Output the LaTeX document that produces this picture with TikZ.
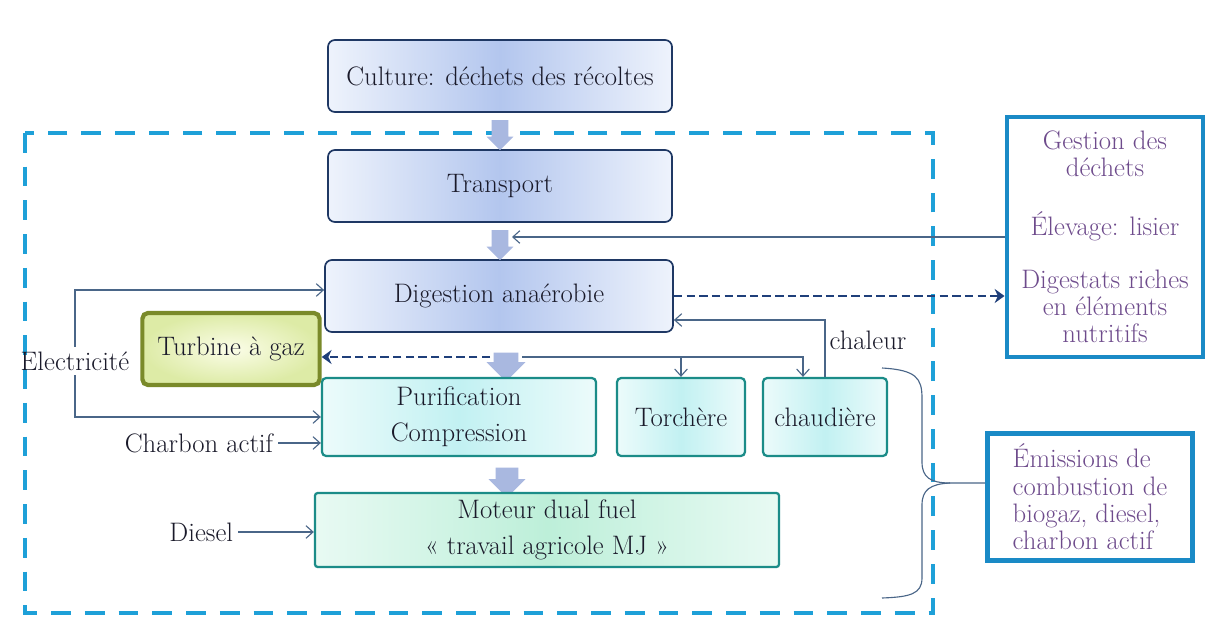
\documentclass[tikz,border=0pt]{standalone}
\usepackage{fontspec}
\usepackage{tikz}
\usetikzlibrary{arrows.meta,positioning,calc,shapes.arrows}
\definecolor{frameBlue}{HTML}{1EA0D8}
\definecolor{sideBlue}{HTML}{1A8AC6}
\definecolor{navyLine}{HTML}{1F3864}
\definecolor{dashNavy}{HTML}{1F3F7A}
\definecolor{lineGrey}{HTML}{4A6688}
\definecolor{blueIn}{HTML}{B3C6EE}
\definecolor{blueOut}{HTML}{EEF3FC}
\definecolor{cyanIn}{HTML}{C2F1F2}
\definecolor{cyanOut}{HTML}{ECFBFB}
\definecolor{tealLine}{HTML}{1B8C88}
\definecolor{mintIn}{HTML}{BDEFD9}
\definecolor{mintOut}{HTML}{E8FAF3}
\definecolor{oliveLine}{HTML}{7A8A2A}
\definecolor{limeIn}{HTML}{FBFDE8}
\definecolor{limeOut}{HTML}{DDEBA6}
\definecolor{arrowFill}{HTML}{A9B8E0}
\definecolor{purpleText}{HTML}{6E4B8C}
\definecolor{ink}{HTML}{1A1A2A}

\begin{document}
\begin{tikzpicture}[x=0.025cm,y=-0.025cm,
  font=\fontsize{19}{21}\selectfont,text=ink,
  >={Straight Barb[length=5pt,width=9pt]},
  bluebox/.style={draw=navyLine,line width=1.2pt,rounded corners=5pt,left color=blueOut,right color=blueOut,middle color=blueIn,minimum width=8.6cm,minimum height=1.8cm},
  cyanbox/.style={draw=tealLine,line width=1.6pt,rounded corners=3pt,left color=cyanOut,right color=cyanOut,middle color=cyanIn,minimum height=1.95cm,align=center,font=\fontsize{19}{25.6}\selectfont},
  sidebox/.style={draw=sideBlue,line width=3.5pt,fill=white,text=purpleText,font=\fontsize{19}{19.5}\selectfont},
  blockarrow/.style={single arrow,fill=arrowFill,draw=none,rotate=-90,inner sep=0pt,text depth=0pt},
  flow/.style={lineGrey,line width=0.8pt,->},
  dashflow/.style={dashNavy,line width=2pt,dash pattern=on 6pt off 3pt,-{Stealth[length=7pt,width=10pt]}}]
\useasboundingbox (0,0) rectangle (1206,630);
\fill[white] (0,0) rectangle (1206,630);
% system boundary
\draw[frameBlue,line width=3.5pt,dash pattern=on 14pt off 10pt] (25,133) rectangle (933,613);
% main chain
\node[bluebox] (cult) at (500,76) {Culture: déchets des récoltes};
\node[bluebox] (trans) at (500,186) {Transport};
\node[bluebox,minimum width=8.7cm] (dig) at (499,296) {Digestion anaérobie};
\node[blockarrow,text height=0.4cm,minimum height=0.75cm,single arrow head extend=0.13cm] (ar1) at (500,131) {};
\node[blockarrow,text height=0.4cm,minimum height=0.75cm,single arrow head extend=0.13cm] (ar2) at (500,241) {};
\node[blockarrow,text height=0.6cm,minimum height=0.72cm,single arrow head extend=0.18cm] (ar3) at (506,361) {};
\node[blockarrow,text height=0.55cm,minimum height=0.75cm,single arrow head extend=0.18cm] (ar4) at (507,477) {};
% biogas uses
\node[draw=oliveLine,line width=3pt,rounded corners=4pt,inner color=limeIn,outer color=limeOut,minimum width=4.43cm,minimum height=1.8cm] (turb) at (231,349) {Turbine à gaz};
\node[cyanbox,minimum width=6.85cm] (pur) at (459,417) {Purification\\Compression};
\node[cyanbox,minimum width=3.2cm] (tor) at (681,417) {Torchère};
\node[cyanbox,minimum width=3.1cm] (chd) at (825,417) {chaudière};
\node[draw=tealLine,line width=1.6pt,rounded corners=2pt,left color=mintOut,right color=mintOut,middle color=mintIn,minimum width=11.6cm,minimum height=1.85cm,align=center,font=\fontsize{19}{25.6}\selectfont] (mot) at (547,530) {Moteur dual fuel\\« travail agricole MJ »};
% inputs
\node (elec) at (75,361) {Electricité};
\node[anchor=east] (charb) at (278,443) {Charbon actif};
\node[anchor=east] (dies) at (238,532) {Diesel};
\node (chal) at (868,340) {chaleur};
% side boxes
\node[sidebox,minimum width=4.9cm,minimum height=6cm,align=center] (gest) at (1105,237) {Gestion des\\déchets\\[22pt]Élevage: lisier\\[18pt]Digestats riches\\en éléments\\nutritifs};
\node[sidebox,minimum width=5.12cm,minimum height=3.18cm,align=left] (emis) at (1090,497) {Émissions de\\combustion de\\biogaz, diesel,\\charbon actif};
% connectors
\coordinate (lis) at (512,237);
\draw[flow] (gest.west) -- (lis);
\draw[dashflow] (dig.east) -- (dig.east -| gest.west);
\draw[flow] (chd.north) |- ([yshift=-0.6cm]dig.east);
\coordinate (sp) at (522,357);
\coordinate (sq) at (490,357);
\draw[flow] (sp) -| ([xshift=-0.55cm]chd.north);
\draw[flow] (sp -| tor.north) -- (tor.north);
\draw[dashflow] (sq) -- (sq -| turb.east);
\draw[flow] (elec.north) |- ([yshift=0.15cm]dig.west);
\draw[flow] (elec.south) |- (pur.west);
\draw[flow] (charb.east) -- (charb.east -| pur.west);
\draw[flow] (dies.east) -- (dies.east -| mot.west);
% emissions brace
\coordinate (bt) at (950,483);
\draw[lineGrey,line width=0.8pt] (882,368) .. controls (916,370) and (922,378) .. (922,398) -- (922,462) .. controls (922,477) and (930,483) .. (bt) -- (bt -| emis.west);
\draw[lineGrey,line width=0.8pt] (bt) .. controls (930,484) and (922,490) .. (922,505) -- (922,578) .. controls (922,594) and (910,597) .. (882,598);
\end{tikzpicture}
\end{document}
